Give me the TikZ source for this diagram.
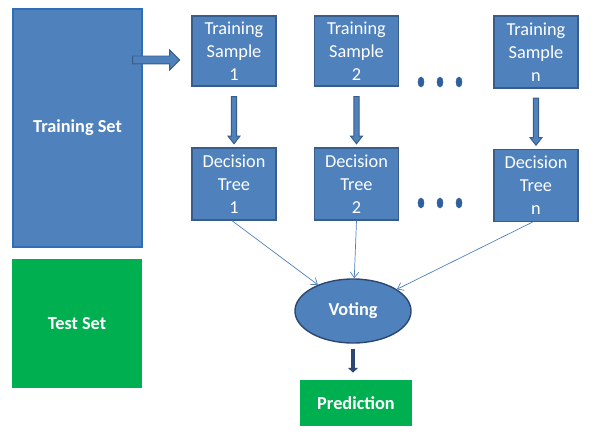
\documentclass[tikz,border=0pt]{standalone}
\usepackage{fontspec}
\setmainfont{Carlito}
\usetikzlibrary{shapes.geometric,shapes.arrows,arrows.meta}

\definecolor{boxblue}{HTML}{4F81BD}
\definecolor{boxline}{HTML}{385D8A}
\definecolor{setline}{HTML}{2E6EB5}
\definecolor{setgreen}{HTML}{00B050}
\definecolor{dotblue}{HTML}{2F5F9F}
\definecolor{navy}{HTML}{2C4770}

\begin{document}
\begin{tikzpicture}[
    x=0.025cm, y=-0.025cm,
    font=\fontsize{13pt}{16.3pt}\selectfont,
    box/.style={draw=boxline, line width=0.9pt, fill=boxblue, text=white, align=center,
        minimum width=2.1cm, minimum height=1.75cm, inner sep=0pt},
    bigset/.style={draw=setline, line width=1pt, fill=boxblue, text=white, font=\fontsize{13pt}{16pt}\selectfont\bfseries},
    greenset/.style={fill=setgreen, text=white, inner sep=0pt, font=\fontsize{13pt}{16pt}\selectfont\bfseries},
    moredots/.style={ellipse, fill=dotblue, draw=dotblue, line width=0.4pt, minimum width=0.15cm, minimum height=0.25cm, inner sep=0pt},
    hblock/.style={single arrow, draw=boxline, line width=0.7pt, fill=boxblue, minimum height=1.175cm, minimum width=0pt,
        inner xsep=0pt, inner ysep=0.0875cm, single arrow head extend=0.15cm, single arrow tip angle=90},
    vblock/.style={single arrow, rotate=-90, draw=boxline, line width=0.7pt, fill=boxblue, minimum height=1.175cm, minimum width=0pt,
        inner xsep=0pt, inner ysep=0.056cm, single arrow head extend=0.081cm, single arrow tip angle=76},
    votearrow/.style={draw=boxblue, line width=0.5pt, -{Straight Barb[length=4pt, width=6pt]}},
    darkarrow/.style={draw=navy, line width=3.2pt, -{Triangle[length=3.5pt, width=7pt]}}
]

\useasboundingbox (0,0) rectangle (598,439);

% 1. Conjuntos de datos
\node[bigset, minimum width=3.225cm, minimum height=5.95cm] (tset) at (77.5,128) {Training Set};
\node[greenset, minimum width=3.25cm, minimum height=3.225cm] (test) at (77,323.5) {Test Set};

% 2. Muestras de entrenamiento
\node[box] (ts1) at (234,51) {Training\\Sample\\1};
\node[box] (ts2) at (356.5,51) {Training\\Sample\\2};
\node[box, minimum height=1.8cm] (tsn) at (536,52) {Training\\Sample\\n};

% 3. Arboles de decision
\node[box, minimum height=1.8cm] (dt1) at (234,184) {Decision\\Tree\\1};
\node[box, minimum height=1.8cm] (dt2) at (356.5,184) {Decision\\Tree\\2};
\node[box, minimum height=1.8cm] (dtn) at (536,185.5) {Decision\\Tree\\n};

% 4. Puntos suspensivos
\node[moredots] (da1) at (421,82) {};
\node[moredots] (da2) at (440,82) {};
\node[moredots] (da3) at (459,82) {};
\node[moredots] (db1) at (421,203) {};
\node[moredots] (db2) at (440,203) {};
\node[moredots] (db3) at (459,203) {};

% 5. Votacion y prediccion
\node[ellipse, draw=navy, line width=1pt, fill=boxblue, text=white, font=\fontsize{13pt}{16pt}\selectfont\bfseries,
    minimum width=2.9cm, minimum height=1.6cm, inner sep=0pt] (voting) at (353,311) {Voting};
\node[greenset, minimum width=2.775cm, minimum height=1.15cm] (pred) at (356,403) {Prediction};

% 6. Flechas de bloque
\node[hblock, anchor=tip] (tosample) at ([shift={(-11,9)}]ts1.west) {};
\node[vblock, anchor=tip] (down1) at ([yshift=2pt]dt1.north) {};
\node[vblock, anchor=tip] (down2) at ([yshift=2pt]dt2.north) {};
\node[vblock, anchor=tip] (downn) at ([yshift=2pt]dtn.north) {};

% 7. Flechas hacia la votacion
\draw[votearrow] ([xshift=-1.5pt]dt1.south) -- (voting);
\draw[votearrow] (dt2.south) -- (voting);
\draw[votearrow] ([xshift=-2.5pt]dtn.south) -- (voting);

% 8. Resultado
\draw[darkarrow, shorten <=3.5pt, shorten >=5pt] (voting.south) -- (voting.south |- pred.north);

\end{tikzpicture}
\end{document}
